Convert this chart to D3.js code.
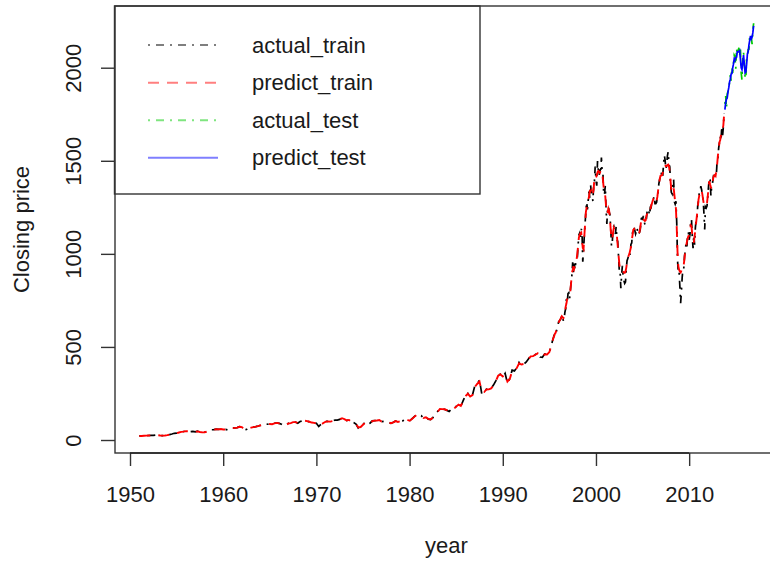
<!DOCTYPE html>
<html>
<head>
<meta charset="utf-8">
<script src="https://cdn.jsdelivr.net/npm/d3@7"></script>
<style>
  body { margin: 0; background: #fff; }
  text { font-family: "Liberation Sans", Arial, Helvetica, sans-serif; fill: #1a1a1a; }
</style>
</head>
<body>
<svg id="chart" width="770" height="563"></svg>
<script>
// S&P 500 closing prices: training period, quarterly 1951-1994
const earlyStart = 1951, earlyStep = 0.25;
const actualTrainEarly = [
  21.7, 21.5, 23.3, 23.8,   24.1, 24.9, 25.0, 26.6,   25.3, 24.1, 23.4, 24.8,
  26.9, 29.2, 32.3, 36.0,   36.6, 41.0, 43.7, 45.5,   48.5, 46.9, 45.4, 46.7,
  44.1, 47.4, 42.4, 40.0,   42.1, 45.2, 50.0, 55.2,   55.4, 58.5, 56.9, 59.9,
  55.3, 56.9, 53.5, 58.1,   65.1, 64.6, 66.7, 71.6,   69.6, 54.8, 56.3, 63.1,
  66.6, 69.4, 71.7, 75.0,   79.0, 81.7, 84.2, 84.8,   86.2, 84.1, 90.0, 92.4,
  89.2, 84.7, 76.6, 80.3,   90.2, 90.6, 96.7, 96.5,   90.2, 99.6, 102.7, 103.9,
  101.5, 97.7, 93.1, 92.1,  89.6, 72.7, 84.3, 92.2,   100.3, 99.7, 98.3, 102.1,
  107.2, 107.1, 110.6, 118.1, 111.5, 104.3, 108.4, 97.6, 94.0, 86.0, 63.5, 68.6,
  83.4, 95.2, 83.9, 90.2,   102.8, 104.3, 105.2, 107.5, 98.4, 100.5, 96.5, 95.1,
  89.2, 95.5, 102.5, 96.1,  101.6, 102.9, 109.3, 107.9, 102.1, 114.2, 125.5, 135.8,
  136.0, 131.2, 116.2, 122.6, 112.0, 109.6, 120.4, 140.6, 153.0, 168.1, 166.1, 164.9,
  159.2, 153.2, 166.1, 167.2, 180.7, 191.9, 182.1, 211.3, 238.9, 250.8, 231.3, 242.2,
  291.7, 304.0, 321.8, 247.1, 258.9, 273.5, 271.9, 277.7, 294.9, 318.0, 349.2, 353.4,
  339.9, 358.0, 306.1, 330.2, 375.2, 371.2, 387.9, 417.1, 403.7, 408.1, 417.8, 435.7,
  451.7, 450.5, 458.9, 466.5, 445.8, 444.3, 462.7, 459.3
];
const predictTrainEarly = [
  21.9, 21.9, 22.7, 23.6,   24.0, 24.6, 25.2, 26.0,   25.6, 24.5, 23.8, 24.5,
  26.4, 28.9, 31.8, 35.0,   36.5, 40.2, 43.4, 45.3,   47.6, 47.0, 45.9, 46.2,
  44.9, 46.4, 43.3, 40.9,   41.8, 45.0, 49.6, 54.3,   55.6, 57.9, 57.3, 59.2,
  56.4, 56.4, 54.4, 57.6,   63.9, 65.0, 66.7, 70.9,   69.4, 57.6, 57.4, 62.2,
  66.4, 69.2, 71.6, 74.6,   78.3, 81.4, 83.9, 84.7,   86.0, 84.8, 89.3, 92.0,
  89.6, 85.0, 78.5, 80.9,   88.6, 91.0, 95.9, 96.3,   91.6, 98.4, 102.2, 103.6,
  101.8, 98.0, 93.8, 92.2,  89.4, 76.0, 83.4, 91.5,   99.0, 99.7, 98.8, 101.6,
  106.4, 107.4, 110.4, 117.0, 112.5, 105.4, 107.8, 98.9, 94.6, 87.2, 67.6, 69.8,
  81.7, 93.9, 86.2, 90.5,   101.1, 104.2, 105.0, 106.9, 99.6, 100.2, 96.9, 95.3,
  90.5, 94.7, 101.6, 97.0,  100.9, 102.8, 108.6, 107.9, 103.3, 112.8, 124.2, 134.4,
  135.3, 131.4, 118.4, 121.7, 113.7, 110.8, 119.9, 138.7, 151.1, 166.2, 166.0, 165.1,
  160.0, 154.4, 164.8, 167.0, 179.0, 190.5, 183.6, 208.4, 235.0, 249.2, 233.5, 241.6,
  285.0, 300.9, 314.0, 259.4, 257.6, 271.4, 272.0, 277.1, 292.6, 315.2, 345.1, 352.0,
  341.6, 355.0, 313.4, 328.1, 370.0, 372.0, 386.4, 411.8, 405.6, 408.4, 417.5, 433.8,
  449.3, 450.8, 458.3, 465.6, 448.6, 445.0, 460.8, 459.9
];

// Training period, monthly Jan 1995 - Oct 2013
const lateStart = 1995, monthStep = 1 / 12;
const actualTrainLate = [
  470.4, 487.4, 500.7, 514.7, 533.4, 544.8, 562.1, 561.9, 584.4, 581.5, 605.4, 615.9,
  636.0, 640.4, 645.5, 654.2, 669.1, 670.6, 639.9, 652.0, 687.3, 705.3, 757.0, 740.7,
  786.2, 790.8, 757.1, 801.3, 848.3, 885.1, 954.3, 899.5, 947.3, 914.6, 955.4, 970.4,
  980.3, 1049.3, 1101.8, 1111.8, 1090.8, 1133.8, 1120.7, 957.3, 1017.0, 1098.7, 1163.6, 1229.2,
  1279.6, 1238.3, 1286.4, 1335.2, 1301.8, 1372.7, 1328.7, 1320.4, 1282.7, 1362.9, 1388.9, 1469.3,
  1394.5, 1366.4, 1498.6, 1452.4, 1420.6, 1454.6, 1430.8, 1517.7, 1436.5, 1429.4, 1315.2, 1320.3,
  1366.0, 1239.9, 1160.3, 1249.5, 1255.8, 1224.4, 1211.2, 1133.6, 1040.9, 1059.8, 1139.5, 1148.1,
  1130.2, 1106.7, 1147.4, 1076.9, 1067.1, 989.8, 911.6, 916.1, 815.3, 885.8, 936.3, 879.8,
  855.7, 841.2, 848.2, 916.9, 963.6, 974.5, 990.3, 1008.0, 996.0, 1050.7, 1058.2, 1111.9,
  1131.1, 1144.9, 1126.2, 1107.3, 1120.7, 1140.8, 1101.7, 1104.2, 1114.6, 1130.2, 1173.8, 1211.9,
  1181.3, 1203.6, 1180.6, 1156.9, 1191.5, 1191.3, 1234.2, 1220.3, 1228.8, 1207.0, 1249.5, 1248.3,
  1280.1, 1280.7, 1294.9, 1310.6, 1270.1, 1270.2, 1276.7, 1303.8, 1335.9, 1377.9, 1400.6, 1418.3,
  1438.2, 1406.8, 1420.9, 1482.4, 1530.6, 1503.4, 1455.3, 1474.0, 1526.8, 1549.4, 1481.1, 1468.4,
  1378.6, 1330.6, 1322.7, 1385.6, 1400.4, 1280.0, 1267.4, 1282.8, 1166.4, 968.8, 896.2, 903.3,
  825.9, 735.1, 797.9, 872.8, 919.1, 919.3, 987.5, 1020.6, 1057.1, 1036.2, 1095.6, 1115.1,
  1073.9, 1104.5, 1169.4, 1186.7, 1089.4, 1030.7, 1101.6, 1049.3, 1141.2, 1183.3, 1180.6, 1257.6,
  1286.1, 1327.2, 1325.8, 1363.6, 1345.2, 1320.6, 1292.3, 1218.9, 1131.4, 1253.3, 1247.0, 1257.6,
  1312.4, 1365.7, 1408.5, 1397.9, 1310.3, 1362.2, 1379.3, 1406.6, 1440.7, 1412.2, 1416.2, 1426.2,
  1498.1, 1514.7, 1569.2, 1597.6, 1630.7, 1606.3, 1685.7, 1633.0, 1681.6, 1756.5
];
const predictTrainLate = [
  472.4, 486.2, 500.9, 516.3, 531.0, 546.8, 556.3, 569.5, 575.9, 590.4, 600.9, 619.1,
  630.8, 640.6, 646.7, 656.3, 664.6, 659.9, 654.2, 659.7, 681.5, 716.5, 734.3, 761.3,
  772.6, 778.0, 783.1, 802.2, 844.9, 895.9, 913.0, 933.7, 920.5, 939.1, 946.8, 968.7,
  1000.0, 1043.8, 1087.6, 1101.5, 1112.1, 1115.1, 1070.6, 1031.7, 1024.3, 1093.1, 1163.8, 1224.1,
  1249.0, 1268.1, 1286.6, 1307.8, 1336.6, 1334.4, 1340.6, 1310.6, 1322.0, 1344.8, 1407.0, 1417.6,
  1410.1, 1419.8, 1439.1, 1445.2, 1440.5, 1435.3, 1445.7, 1448.7, 1446.2, 1393.7, 1355.0, 1333.8,
  1308.7, 1255.4, 1216.6, 1221.9, 1243.2, 1230.5, 1189.7, 1128.6, 1078.1, 1080.1, 1115.8, 1139.3,
  1128.0, 1125.0, 1110.0, 1095.0, 1045.0, 995.0, 950.0, 915.0, 905.0, 905.0, 910.0, 905.0,
  900.0, 898.0, 905.0, 925.0, 955.0, 975.0, 990.0, 1000.0, 1018.0, 1035.0, 1070.0, 1098.0,
  1129.3, 1134.1, 1126.1, 1118.1, 1122.9, 1121.1, 1115.6, 1106.8, 1116.3, 1139.5, 1172.0, 1189.0,
  1198.9, 1188.5, 1180.4, 1176.3, 1179.9, 1205.7, 1215.3, 1227.8, 1218.7, 1228.4, 1234.9, 1259.3,
  1269.7, 1285.2, 1295.4, 1291.9, 1283.6, 1272.3, 1283.6, 1305.5, 1339.2, 1371.5, 1398.9, 1419.0,
  1421.0, 1422.0, 1435.0, 1462.0, 1478.0, 1478.0, 1470.0, 1472.0, 1478.0, 1480.0, 1470.0, 1440.0,
  1392.0, 1346.0, 1345.0, 1368.0, 1355.0, 1316.0, 1277.0, 1240.0, 1140.0, 1012.0, 935.0, 915.0,
  905.0, 900.0, 910.0, 925.0, 945.0, 942.0, 975.0, 1020.0, 1038.0, 1063.0, 1082.0, 1095.0,
  1097.8, 1115.9, 1153.5, 1148.5, 1102.3, 1073.9, 1060.5, 1097.4, 1124.6, 1168.4, 1207.2, 1241.4,
  1290.0, 1313.0, 1335.0, 1345.0, 1340.0, 1320.0, 1290.0, 1265.0, 1255.0, 1255.0, 1260.0, 1275.0,
  1311.9, 1362.2, 1390.7, 1372.2, 1356.8, 1350.6, 1382.7, 1408.9, 1419.8, 1423.0, 1418.2, 1446.8,
  1479.7, 1527.3, 1560.5, 1599.2, 1611.5, 1640.9, 1641.7, 1666.8, 1690.4, 1748.0
];

// Test period, monthly Nov 2013 - Dec 2016
const testStart = 2013 + 10 / 12;
const actualTest = [
  1805.8, 1848.4,
  1782.6, 1859.5, 1872.3, 1884.0, 1923.6, 1960.2, 1930.7, 2003.4, 1972.3, 2018.1, 2067.6, 2058.9,
  1995.0, 2104.5, 2067.9, 2085.5, 2107.4, 2063.1, 2103.8, 1972.2, 1935.0, 2079.4, 2080.4, 2043.9,
  1945.0, 1940.0, 2059.7, 2065.3, 2097.0, 2098.9, 2173.6, 2171.0, 2168.3, 2126.2, 2198.8, 2238.8
];
const predictTest = [
  1775, 1812,
  1830, 1838, 1870, 1893, 1923, 1938, 1965, 1969, 1998, 2019, 2048, 2040,
  2053, 2056, 2086, 2087, 2085, 2091, 2046, 2000, 1990, 2027, 2068, 2021,
  1972, 1977, 2019, 2074, 2087, 2123, 2148, 2171, 2155, 2164, 2188, 2225
];

const xTicks = [1950, 1960, 1970, 1980, 1990, 2000, 2010];
const yTicks = [0, 500, 1000, 1500, 2000];
const legendLabels = ["actual_train", "predict_train", "actual_test", "predict_test"];

// Attach dates to the value arrays
const toPoints = (vals, start, step) => vals.map((v, i) => ({ t: start + i * step, v }));
const actualTrain = toPoints(actualTrainEarly, earlyStart, earlyStep)
  .concat(toPoints(actualTrainLate, lateStart, monthStep));
const predictTrain = toPoints(predictTrainEarly, earlyStart, earlyStep)
  .concat(toPoints(predictTrainLate, lateStart, monthStep));
const actualTestPts = toPoints(actualTest, testStart, monthStep);
const predictTestPts = toPoints(predictTest, testStart, monthStep);

const svg = d3.select("#chart");
const plot = { left: 115, top: 6, right: 777.7, bottom: 453 };

const x = d3.scaleLinear().domain([1948.39, 2019.5]).range([plot.left, plot.right]);
const y = d3.scaleLinear().domain([-69.8, 2331.5]).range([plot.bottom, plot.top]);

const seriesStyle = [
  { data: actualTrain,    color: "#000000", dash: "2,6,8,6", width: 1.7 },
  { data: predictTrain,   color: "#ff0000", dash: "11,8",    width: 1.9 },
  { data: actualTestPts,  color: "#00cc00", dash: "2,6,8,6", width: 1.7 },
  { data: predictTestPts, color: "#0000ff", dash: null,      width: 1.7 }
];

const line = d3.line().x(d => x(d.t)).y(d => y(d.v));

svg.append("clipPath").attr("id", "plotClip")
  .append("rect").attr("x", plot.left).attr("y", plot.top)
  .attr("width", plot.right - plot.left).attr("height", plot.bottom - plot.top);

const lines = svg.append("g").attr("clip-path", "url(#plotClip)");
seriesStyle.forEach(s => {
  lines.append("path")
    .datum(s.data)
    .attr("d", line)
    .attr("fill", "none")
    .attr("stroke", s.color)
    .attr("stroke-width", s.width)
    .attr("stroke-dasharray", s.dash);
});

// Plot frame
svg.append("rect")
  .attr("x", plot.left).attr("y", plot.top)
  .attr("width", plot.right - plot.left).attr("height", plot.bottom - plot.top)
  .attr("fill", "none").attr("stroke", "#333").attr("stroke-width", 1.4);

// X axis
const xAxis = svg.append("g")
  .attr("transform", `translate(0,${plot.bottom})`)
  .call(d3.axisBottom(x).tickValues(xTicks).tickSize(13).tickFormat(d3.format("d")));
xAxis.select(".domain").remove();
xAxis.selectAll(".tick line").attr("stroke", "#333").attr("stroke-width", 1.4);
xAxis.selectAll(".tick text")
  .attr("y", 49).attr("dy", null)
  .attr("font-size", 22).attr("fill", "#1a1a1a")
  .style("font-family", "'Liberation Sans', Arial, sans-serif");
// axis line between first and last tick
svg.append("line")
  .attr("x1", x(xTicks[0])).attr("x2", x(xTicks[xTicks.length - 1]))
  .attr("y1", plot.bottom).attr("y2", plot.bottom)
  .attr("stroke", "#222").attr("stroke-width", 1.6);

// Y axis
const yAxis = svg.append("g")
  .attr("transform", `translate(${plot.left},0)`)
  .call(d3.axisLeft(y).tickValues(yTicks).tickSize(14).tickFormat(d3.format("d")));
yAxis.select(".domain").remove();
yAxis.selectAll(".tick line").attr("stroke", "#333").attr("stroke-width", 1.4);
yAxis.selectAll(".tick text")
  .attr("x", null).attr("dy", null)
  .attr("text-anchor", "middle")
  .attr("transform", "translate(-34,0) rotate(-90)")
  .attr("font-size", 22).attr("fill", "#1a1a1a")
  .style("font-family", "'Liberation Sans', Arial, sans-serif");

// Axis titles
svg.append("text")
  .attr("x", (plot.left + plot.right) / 2).attr("y", 553)
  .attr("text-anchor", "middle").attr("font-size", 22)
  .text("year");
svg.append("text")
  .attr("transform", `translate(29,${(plot.top + plot.bottom) / 2}) rotate(-90)`)
  .attr("text-anchor", "middle").attr("font-size", 22)
  .text("Closing price");

// Legend
const legend = svg.append("g");
legend.append("rect")
  .attr("x", 114.5).attr("y", 6).attr("width", 365.5).attr("height", 188)
  .attr("fill", "none").attr("stroke", "#333").attr("stroke-width", 1.4);
const rowY = [45, 82.7, 120.3, 157.7];
legendLabels.forEach((lab, i) => {
  const s = seriesStyle[i];
  legend.append("line")
    .attr("x1", 148).attr("x2", 218)
    .attr("y1", rowY[i]).attr("y2", rowY[i])
    .attr("stroke", s.color).attr("stroke-opacity", 0.5)
    .attr("stroke-width", 2)
    .attr("stroke-dasharray", s.dash);
  legend.append("text")
    .attr("x", 252).attr("y", rowY[i] + 7.7)
    .attr("font-size", 22)
    .text(lab);
});
</script>
</body>
</html>
